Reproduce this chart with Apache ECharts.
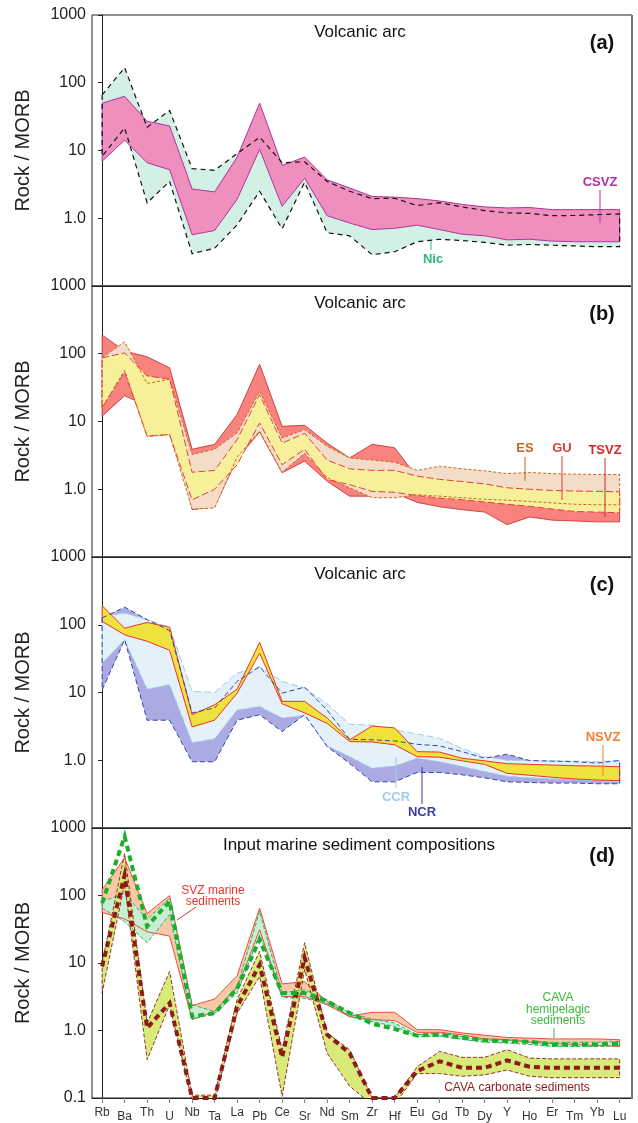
<!DOCTYPE html>
<html><head><meta charset="utf-8">
<script src="https://cdn.jsdelivr.net/npm/echarts@6/dist/echarts.min.js"></script>
<style>html,body{margin:0;padding:0;background:#fff}#c{width:638px;height:1123px}</style>
</head><body><div id="c"></div>
<script>
const categories = ['Rb','Ba','Th','U','Nb','Ta','La','Pb','Ce','Sr','Nd','Sm','Zr','Hf','Eu','Gd','Tb','Dy','Y','Ho','Er','Tm','Yb','Lu'];
const yTicks = [0.1, 1, 10, 100, 1000];

// Panel (a)
const csvzUpper = [50, 63, 27, 23, 2.7, 2.45, 8, 50, 6, 8, 3.7, 2.8, 2.1, 2.05, 1.95, 1.8, 1.6, 1.47, 1.42, 1.44, 1.34, 1.34, 1.34, 1.34];
const csvzLower = [6.95, 14.2, 6.6, 5.2, 0.57, 0.66, 1.9, 10.4, 1.5, 3.9, 1.09, 0.85, 0.68, 0.71, 0.79, 0.68, 0.58, 0.55, 0.48, 0.49, 0.46, 0.45, 0.45, 0.45];
const nicUpper = [66, 167, 22, 39, 5.4, 5.1, 9, 15.7, 6.6, 6.8, 3.5, 2.5, 1.95, 1.97, 1.54, 1.7, 1.47, 1.3, 1.2, 1.18, 1.09, 1.1, 1.13, 1.16];
const nicLower = [8.2, 21.6, 1.69, 3.5, 0.30, 0.36, 0.8, 2.5, 0.70, 3.4, 0.61, 0.55, 0.29, 0.32, 0.45, 0.49, 0.47, 0.44, 0.40, 0.41, 0.40, 0.39, 0.38, 0.38];

// Panel (b)
const tsvzUpper = [189, 110, 90, 62, 3.9, 4.6, 12.7, 70, 8.5, 8.8, 4.8, 2.9, 4.6, 4.1, 1.5, 1.3, 1.2, 1.1, 1.0, 0.9, 0.85, 0.8, 0.8, 0.8];
const tsvzLower = [12, 24, 17, 12, 0.5, 0.55, 2.8, 7, 1.75, 2.6, 1.31, 0.79, 0.79, 0.88, 0.64, 0.55, 0.5, 0.46, 0.30, 0.39, 0.35, 0.34, 0.33, 0.33];
const esUpper = [87, 150, 36.5, 42, 3.25, 3.9, 6.8, 28, 5.7, 7.6, 4.3, 2.9, 2.7, 2.5, 1.9, 2.19, 2.0, 1.87, 1.7, 1.77, 1.7, 1.67, 1.65, 1.65];
const esLower = [16, 57, 6.0, 6.4, 0.51, 0.53, 3.0, 7.2, 1.78, 3.4, 1.48, 1.05, 0.75, 0.75, 0.83, 0.79, 0.75, 0.71, 0.69, 0.66, 0.63, 0.6, 0.59, 0.59];
const guUpper = [87, 103, 47, 42, 1.78, 1.9, 5.4, 25, 4.8, 6.7, 2.7, 2.0, 1.9, 1.9, 1.56, 1.4, 1.3, 1.2, 1.05, 1.0, 0.96, 0.94, 0.93, 0.92];
const guLower = [16, 54, 6.1, 6.4, 0.70, 1.0, 2.3, 9.5, 2.3, 3.9, 1.39, 1.17, 0.93, 0.9, 0.81, 0.74, 0.7, 0.65, 0.6, 0.56, 0.51, 0.47, 0.46, 0.45];

// Panel (c)
const nsvzUpper = [191, 89, 108, 92, 4.7, 6.6, 11.2, 55, 7.4, 7.4, 4.2, 2.0, 3.2, 3.0, 1.34, 1.32, 1.07, 0.98, 0.89, 0.87, 0.85, 0.83, 0.82, 0.8];
const nsvzLower = [112, 71, 57, 42, 3.1, 3.9, 9.8, 38, 6.8, 5.0, 3.5, 1.89, 1.86, 1.69, 1.13, 1.11, 0.98, 0.87, 0.64, 0.6, 0.56, 0.53, 0.51, 0.5];
const ccrUpper = [133, 149, 119, 92, 10.4, 10, 19.3, 24, 14.6, 11.6, 6.8, 3.4, 3.3, 2.8, 2.45, 2.1, 1.5, 1.13, 1.0, 0.99, 0.98, 0.97, 0.95, 1.0];
const ccrLower = [27, 60, 11.2, 13, 1.82, 2.07, 5.5, 6.2, 4.2, 4.6, 1.63, 1.13, 0.76, 0.82, 1.07, 0.95, 0.81, 0.68, 0.58, 0.55, 0.53, 0.52, 0.5, 0.48];
const ncrUpper = [126, 182, 119, 82, 5.0, 5.9, 14.6, 24, 9.8, 12, 5.5, 2.04, 2.0, 1.93, 1.72, 1.63, 1.34, 1.07, 1.23, 0.99, 0.97, 0.95, 0.91, 0.99];
const ncrLower = [10.9, 60, 3.9, 3.9, 0.95, 0.95, 3.9, 4.7, 2.65, 4.7, 1.59, 0.90, 0.48, 0.48, 0.66, 0.66, 0.61, 0.55, 0.48, 0.47, 0.46, 0.46, 0.45, 0.45];

// Panel (d)
const svzUpper = [122, 360, 54, 100, 2.33, 2.93, 6.5, 65, 4.9, 5.3, 2.7, 1.62, 1.86, 1.86, 1.03, 1.03, 0.92, 0.85, 0.79, 0.77, 0.75, 0.75, 0.75, 0.73];
const svzLower = [56, 45, 29, 25, 1.45, 1.92, 4.3, 31, 3.2, 3.2, 2.4, 1.6, 1.45, 1.4, 0.94, 0.94, 0.86, 0.75, 0.73, 0.67, 0.64, 0.62, 0.6, 0.58];
const hemiUpper = [82, 106, 44, 92, 2.42, 1.9, 4.5, 58, 3.6, 4.0, 2.86, 1.82, 1.48, 1.29, 0.87, 0.92, 0.81, 0.72, 0.72, 0.69, 0.67, 0.67, 0.67, 0.69];
const hemiLower = [65, 41, 20, 52, 1.48, 1.78, 3.6, 26, 3.1, 3.0, 2.5, 1.6, 1.36, 1.15, 0.81, 0.83, 0.74, 0.67, 0.65, 0.62, 0.58, 0.58, 0.58, 0.6];
const hemiMean = [77, 750, 35, 82, 1.62, 1.8, 4.2, 22, 3.6, 3.6, 2.7, 1.82, 1.26, 1.05, 0.84, 0.87, 0.78, 0.72, 0.70, 0.68, 0.62, 0.62, 0.62, 0.64];
const carbUpper = [10, 420, 1.29, 7.5, 0.11, 0.11, 2.9, 14.9, 0.52, 20, 0.92, 0.52, 0.1, 0.1, 0.29, 0.49, 0.40, 0.40, 0.52, 0.39, 0.38, 0.38, 0.38, 0.38];
const carbLower = [3.6, 150, 0.37, 2.4, 0.09, 0.09, 1.8, 6.3, 0.106, 8, 0.46, 0.15, 0.08, 0.08, 0.23, 0.23, 0.21, 0.22, 0.26, 0.21, 0.2, 0.2, 0.2, 0.2];
const carbMean = [8.9, 200, 1.09, 2.55, 0.1, 0.1, 2.28, 9.4, 0.40, 12, 0.87, 0.46, 0.1, 0.1, 0.25, 0.35, 0.28, 0.28, 0.36, 0.29, 0.28, 0.28, 0.28, 0.28];

const FONT = 'Liberation Sans, Arial, Helvetica, sans-serif';
const idx = categories.map((_, i) => i);
const TOP = 15, H = 271, LEFT = 92, RIGHT = 6;

function polyPts(api, up, lo) {
  const pts = [];
  up.forEach((v, i) => pts.push(api.coord([i, v])));
  for (let i = lo.length - 1; i >= 0; i--) pts.push(api.coord([i, lo[i]]));
  return pts;
}
function band(g, up, lo, fill, stroke, lw, dash) {
  return {
    type: 'custom', xAxisIndex: g, yAxisIndex: g, clip: true, silent: true,
    data: [[0, 1]],
    renderItem: (p, api) => ({
      type: 'polygon', shape: { points: polyPts(api, up, lo) },
      style: { fill: fill || 'none', stroke: stroke || 'none', lineWidth: lw || 0, lineDash: dash || null, lineJoin: 'miter' }
    })
  };
}
function meanLine(g, vals, color, width, dash) {
  return {
    type: 'line', xAxisIndex: g, yAxisIndex: g, clip: true, silent: true, symbol: 'none',
    data: vals.map((v, i) => [i, v]),
    lineStyle: { color: color, width: width, type: dash, cap: 'butt', join: 'miter' }
  };
}

function yLabel(hideLow) {
  return v => {
    const e = Math.round(Math.log10(v));
    if (e === -1) return hideLow ? '' : '0.1';
    if (e === 0) return '1.0';
    return String(Math.pow(10, e));
  };
}

const grid = [], xAxis = [], yAxis = [];
for (let i = 0; i < 4; i++) {
  grid.push({ left: LEFT, right: RIGHT, top: TOP + H * i, height: H, show: true, borderColor: '#222', borderWidth: 1 });
  const last = i === 3;
  xAxis.push({
    type: 'value', gridIndex: i, min: -0.45, max: 23.55,
    axisLine: { show: true, lineStyle: { color: '#222', width: 1 } },
    splitLine: { show: false },
    axisTick: last ? { show: true, customValues: idx, length: 5, lineStyle: { color: '#888' } } : { show: false },
    axisLabel: last ? {
      show: true, customValues: idx, margin: 9,
      formatter: v => { const k = Math.round(v); return (k % 2 ? '{b|' : '{a|') + categories[k] + '}'; },
      rich: { a: { fontSize: 12, color: '#333', fontFamily: FONT }, b: { fontSize: 12, color: '#333', fontFamily: FONT, padding: [4, 0, 0, 0] } }
    } : { show: false }
  });
  yAxis.push({
    type: 'log', logBase: 10, gridIndex: i, min: 0.1, max: 1000,
    name: 'Rock / MORB', nameLocation: 'middle', nameGap: 59, nameRotate: 90,
    nameTextStyle: { fontSize: 20, color: '#222', fontFamily: FONT },
    axisLine: { show: true, lineStyle: { color: '#222', width: 1 } },
    axisTick: { show: true, length: 4, lineStyle: { color: '#222' } },
    minorTick: { show: false }, splitLine: { show: false },
    axisLabel: { fontSize: 16, color: '#222', margin: 6, fontFamily: FONT, formatter: yLabel(!last) }
  });
}

const series = [
  // (a)
  band(0, nicUpper, nicLower, '#d3f0e5'),
  band(0, csvzUpper, csvzLower, '#ef8fbe', '#b0339c', 1),
  band(0, nicUpper, nicLower, null, '#111', 1.2, [5, 4]),
  // (b)
  band(1, tsvzUpper, tsvzLower, '#f7827e', '#c62828', 0.8),
  band(1, esUpper, esLower, '#f3dcc8'),
  band(1, guUpper, guLower, '#f6f09a'),
  band(1, esUpper, esLower, null, '#c96a1e', 1, [3, 2]),
  band(1, guUpper, guLower, null, '#e5403a', 1, [7, 3]),
  // (c)
  band(2, ncrUpper, ncrLower, '#abaae3'),
  band(2, ccrUpper, ccrLower, '#e4f1f9'),
  band(2, ccrUpper, ccrLower, null, '#9fcde9', 1, [7, 3]),
  band(2, nsvzUpper, nsvzLower, '#f0e23c', '#e8342a', 1),
  band(2, ncrUpper, ncrLower, null, '#3445a5', 1, [5, 3]),
  // (d)
  band(3, svzUpper, svzLower, '#f9c9a7'),
  band(3, hemiUpper, hemiLower, '#c8eed3'),
  band(3, carbUpper, carbLower, '#d7ea7a'),
  band(3, svzUpper, svzLower, null, '#ee3a2c', 0.9),
  band(3, hemiUpper, hemiLower, null, '#2fae73', 1, [4, 2]),
  band(3, carbUpper, carbLower, null, '#8e1b1b', 0.9, [4, 2]),
  meanLine(3, carbMean, '#8e1b1b', 4, [6, 4]),
  meanLine(3, hemiMean, '#1fae2a', 4, [6, 4])
];

function txt(text, x, y, color, size, bold, align) {
  return { type: 'text', z: 100, x: x, y: y, style: { text: text, fill: color, font: (bold ? 'bold ' : '') + size + 'px ' + FONT, align: align || 'center', verticalAlign: 'middle' } };
}
function lead(x1, y1, x2, y2, color) {
  return { type: 'line', z: 100, shape: { x1: x1, y1: y1, x2: x2, y2: y2 }, style: { stroke: color, lineWidth: 1 } };
}
const graphic = [
  { type: 'line', z: 100, shape: { x1: 632, y1: TOP, x2: 632, y2: TOP + 4 * H }, style: { stroke: '#777', lineWidth: 2 } },
  txt('Volcanic arc', 360, TOP + 17, '#111', 17),
  txt('Volcanic arc', 360, TOP + H + 17, '#111', 17),
  txt('Volcanic arc', 360, TOP + 2 * H + 17, '#111', 17),
  txt('Input marine sediment compositions', 359, TOP + 3 * H + 17, '#111', 17),
  txt('(a)', 602, TOP + 28, '#111', 20, true),
  txt('(b)', 602, TOP + H + 28, '#111', 20, true),
  txt('(c)', 602, TOP + 2 * H + 28, '#111', 20, true),
  txt('(d)', 602, TOP + 3 * H + 28, '#111', 20, true),
  // (a)
  txt('CSVZ', 600, 182, '#b5319f', 13, true), lead(600, 190, 600, 223, '#b5319f'),
  txt('Nic', 433, 259, '#2eb877', 13, true), lead(431, 241, 431, 250, '#2eb877'),
  // (b)
  txt('ES', 525, 448, '#c8651b', 13, true), lead(525, 457, 525, 481, '#c8651b'),
  txt('GU', 562, 448, '#e23c3c', 13, true), lead(562, 456, 562, 500, '#e23c3c'),
  txt('TSVZ', 605, 450, '#d0282c', 13, true), lead(605, 458, 605, 517, '#d0282c'),
  // (c)
  txt('CCR', 396, 797, '#9fcbe8', 13, true), lead(396, 757, 396, 788, '#9fcbe8'),
  txt('NCR', 422, 812, '#3a3f9a', 13, true), lead(422, 767, 422, 804, '#3a3f9a'),
  txt('NSVZ', 603, 737, '#f08030', 13, true), lead(603, 745, 603, 776, '#f08030'),
  // (d)
  txt('SVZ marine', 213, 891, '#e8342a', 12), txt('sediments', 213, 902, '#e8342a', 12),
  lead(196, 907, 177, 920, '#e8342a'),
  txt('CAVA', 558, 998, '#3cb83c', 12), txt('hemipelagic', 558, 1010, '#3cb83c', 12), txt('sediments', 558, 1021, '#3cb83c', 12),
  lead(554, 1028, 554, 1038, '#3cb83c'),
  txt('CAVA carbonate sediments', 517, 1088, '#8e2020', 12)
];

const chart = echarts.init(document.getElementById('c'), null, { renderer: 'canvas' });
chart.setOption({ animation: false, backgroundColor: '#fff', grid, xAxis, yAxis, series, graphic });
</script></body></html>
